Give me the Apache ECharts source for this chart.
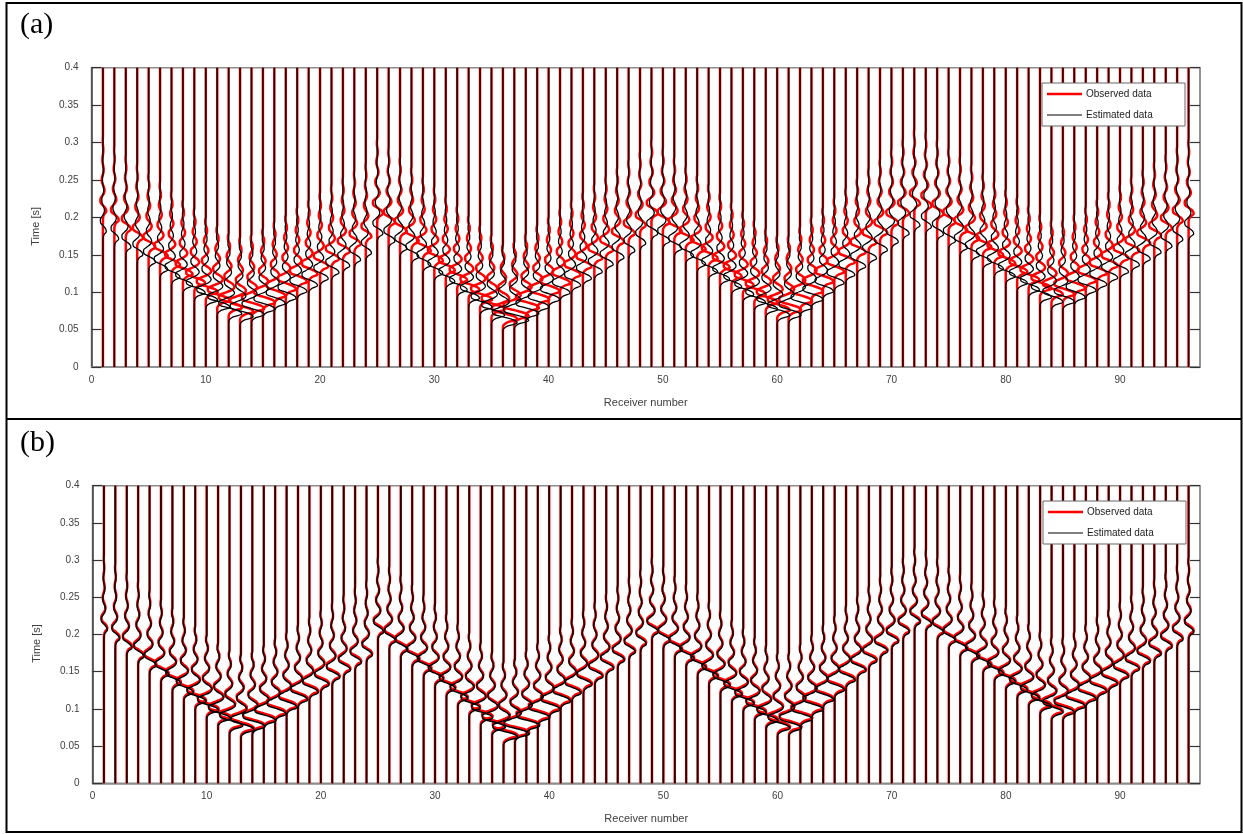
<!DOCTYPE html>
<html>
<head>
<meta charset="utf-8">
<script src="https://cdn.jsdelivr.net/npm/echarts@6/dist/echarts.min.js"></script>
<style>
  html, body { margin: 0; padding: 0; background: #fff; }
  #chart { width: 1243px; height: 834px; }
</style>
</head>
<body>
<div id="chart"></div>
<script>
// Receiver numbers along the spread
const receivers = Array.from({ length: 96 }, (_, i) => i + 1);

// Axis tick values
const timeTicks = [0, 0.05, 0.1, 0.15, 0.2, 0.25, 0.3, 0.35, 0.4];
const receiverTicks = [0, 10, 20, 30, 40, 50, 60, 70, 80, 90];

// Source wavelet: lag from the main peak [s] and normalised amplitude
const waveletLag = [-0.012, -0.008, -0.004, 0, 0.004, 0.008, 0.012, 0.016, 0.020, 0.024,
  0.028, 0.032, 0.036, 0.040, 0.044, 0.048, 0.052, 0.056, 0.060, 0.064,
  0.068, 0.072, 0.076, 0.080, 0.084, 0.088, 0.092, 0.096, 0.100];
const waveletShape = [0, 0.05, 0.35, 1.0, 0.75, 0.0, -0.7, -0.75, -0.3, 0.25,
  0.45, 0.3, -0.05, -0.3, -0.32, -0.1, 0.15, 0.22, 0.12, -0.05,
  -0.15, -0.12, 0.0, 0.1, 0.1, 0.03, -0.05, -0.05, 0];

// Trace display gain (in receiver spacings)
const traceGain = [
  0.30, 0.38, 0.45, 0.50, 0.60, 0.68, 0.75, 0.85, 0.95, 1.05, 1.10, 1.15,
  1.15, 1.10, 1.05, 0.95, 0.90, 0.85, 0.78, 0.72, 0.66, 0.60, 0.55, 0.50,
  0.50, 0.55, 0.60, 0.65, 0.70, 0.75, 0.80, 0.88, 0.95, 1.05, 1.15, 1.25,
  1.25, 1.15, 1.05, 0.95, 0.88, 0.80, 0.75, 0.70, 0.65, 0.60, 0.55, 0.50,
  0.55, 0.60, 0.65, 0.70, 0.75, 0.80, 0.85, 0.90, 0.95, 1.00, 1.05, 1.10,
  1.10, 1.05, 1.00, 0.92, 0.86, 0.80, 0.75, 0.70, 0.65, 0.60, 0.55, 0.50,
  0.50, 0.55, 0.60, 0.65, 0.70, 0.75, 0.80, 0.85, 0.90, 0.95, 1.00, 1.00,
  1.00, 0.95, 0.90, 0.85, 0.80, 0.75, 0.70, 0.65, 0.60, 0.55, 0.50, 0.45
];

// First-arrival peak times [s] of the observed traces
const observedPick = [
  0.208, 0.196, 0.184, 0.172, 0.160, 0.148, 0.136, 0.124, 0.112, 0.100, 0.089, 0.079,
  0.074, 0.078, 0.086, 0.095, 0.104, 0.114, 0.124, 0.134, 0.144, 0.154, 0.164, 0.174,
  0.205, 0.193, 0.181, 0.168, 0.155, 0.142, 0.129, 0.116, 0.103, 0.090, 0.077, 0.064,
  0.068, 0.079, 0.090, 0.101, 0.112, 0.123, 0.134, 0.145, 0.156, 0.167, 0.178, 0.189,
  0.205, 0.193, 0.181, 0.169, 0.157, 0.145, 0.133, 0.121, 0.109, 0.097, 0.086, 0.076,
  0.076, 0.088, 0.101, 0.114, 0.127, 0.140, 0.153, 0.166, 0.179, 0.192, 0.205, 0.218,
  0.215, 0.204, 0.193, 0.182, 0.171, 0.160, 0.149, 0.138, 0.127, 0.116, 0.105, 0.097,
  0.097, 0.105, 0.115, 0.125, 0.135, 0.145, 0.155, 0.165, 0.175, 0.185, 0.195, 0.205
];

// Peak times [s] of the estimated traces, initial model (a)
const estimatedPickA = [
  0.181, 0.171, 0.160, 0.150, 0.140, 0.130, 0.120, 0.109, 0.099, 0.089, 0.080, 0.071,
  0.067, 0.070, 0.077, 0.085, 0.092, 0.101, 0.109, 0.118, 0.126, 0.135, 0.143, 0.152,
  0.178, 0.168, 0.158, 0.147, 0.136, 0.125, 0.114, 0.103, 0.092, 0.080, 0.069, 0.059,
  0.062, 0.071, 0.080, 0.090, 0.099, 0.109, 0.118, 0.127, 0.137, 0.146, 0.155, 0.165,
  0.178, 0.168, 0.158, 0.148, 0.137, 0.127, 0.117, 0.107, 0.097, 0.086, 0.077, 0.069,
  0.069, 0.079, 0.090, 0.101, 0.112, 0.123, 0.134, 0.145, 0.156, 0.167, 0.178, 0.189,
  0.187, 0.177, 0.168, 0.159, 0.149, 0.140, 0.131, 0.121, 0.112, 0.103, 0.093, 0.087,
  0.087, 0.093, 0.102, 0.110, 0.119, 0.127, 0.136, 0.144, 0.153, 0.161, 0.170, 0.178
];

// Peak times [s] of the estimated traces, final model (b)
const estimatedPickB = [
  0.206, 0.194, 0.182, 0.170, 0.158, 0.146, 0.134, 0.122, 0.110, 0.098, 0.087, 0.077,
  0.072, 0.076, 0.084, 0.093, 0.102, 0.112, 0.122, 0.132, 0.142, 0.152, 0.162, 0.172,
  0.203, 0.191, 0.179, 0.166, 0.153, 0.140, 0.127, 0.114, 0.101, 0.088, 0.075, 0.062,
  0.066, 0.077, 0.088, 0.099, 0.110, 0.121, 0.132, 0.143, 0.154, 0.165, 0.176, 0.187,
  0.203, 0.191, 0.179, 0.167, 0.155, 0.143, 0.131, 0.119, 0.107, 0.095, 0.084, 0.074,
  0.074, 0.086, 0.099, 0.112, 0.125, 0.138, 0.151, 0.164, 0.177, 0.190, 0.203, 0.216,
  0.213, 0.202, 0.191, 0.180, 0.169, 0.158, 0.147, 0.136, 0.125, 0.114, 0.103, 0.095,
  0.095, 0.103, 0.113, 0.123, 0.133, 0.143, 0.153, 0.163, 0.173, 0.183, 0.193, 0.203
];

const T_MIN = timeTicks[0];
const T_MAX = timeTicks[timeTicks.length - 1];

// One wiggle trace: the wavelet placed at the trace's pick time.
function wiggle(i, picks) {
  const r = receivers[i], T = picks[i], A = traceGain[i];
  const pts = [[r, T_MIN]];
  waveletLag.forEach((lag, k) => {
    const t = T + lag;
    if (t > T_MIN && t < T_MAX) pts.push([r + A * waveletShape[k], t]);
  });
  pts.push([r, T_MAX]);
  return pts;
}

const FONT = 'Arial, "Liberation Sans", Helvetica, sans-serif';
const SERIF = '"Liberation Serif", "Times New Roman", serif';
const LABEL_COLOR = '#404040';
const RED = '#ff0000';

const grids = [
  { left: 91.5, top: 67.7, width: 1108.5, height: 299.3 },
  { left: 92.5, top: 485.7, width: 1107.5, height: 297.6 }
];

function xAxisFor(g) {
  return {
    type: 'value', gridIndex: g, min: receiverTicks[0], max: 97, interval: 10,
    axisLine: { show: true, lineStyle: { color: '#8c8c8c', width: 1.5 } },
    axisTick: { show: false },
    splitLine: { show: false },
    axisLabel: {
      fontSize: 10, color: LABEL_COLOR, fontFamily: FONT, margin: 8,
      formatter: v => (receiverTicks.indexOf(v) >= 0 ? String(v) : '')
    },
    name: 'Receiver number', nameLocation: 'middle', nameGap: 30,
    nameTextStyle: { fontSize: 11, color: LABEL_COLOR, fontFamily: FONT }
  };
}

function yLeftFor(g) {
  return {
    type: 'value', gridIndex: g, position: 'left', min: T_MIN, max: T_MAX, interval: 0.05,
    axisLine: { show: true, lineStyle: { color: '#404040', width: 1.5 } },
    axisTick: { show: true, inside: true, length: 10, lineStyle: { color: '#333', width: 1.2 } },
    splitLine: { show: false },
    axisLabel: { fontSize: 10, color: LABEL_COLOR, fontFamily: FONT, margin: 13 },
    name: 'Time [s]', nameLocation: 'middle', nameGap: 50,
    nameTextStyle: { fontSize: 11, color: LABEL_COLOR, fontFamily: FONT, padding: [0, 18, 0, 0] }
  };
}

function yRightFor(g) {
  return {
    type: 'value', gridIndex: g, position: 'right', min: T_MIN, max: T_MAX, interval: 0.05,
    axisLine: { show: true, lineStyle: { color: '#8c8c8c', width: 1.5 } },
    axisTick: { show: true, inside: true, length: 10, lineStyle: { color: '#333', width: 1.2 } },
    splitLine: { show: false },
    axisLabel: { show: false }
  };
}

function panelSeries(xi, yi, estPicks, estWidth) {
  const out = [];
  receivers.forEach((r, i) => {
    out.push({
      name: 'Observed data', type: 'line', xAxisIndex: xi, yAxisIndex: yi,
      data: wiggle(i, observedPick), symbol: 'none', showSymbol: false, smooth: 0.4,
      lineStyle: { color: RED, width: 2.5 }, itemStyle: { color: RED }, z: 2, silent: true
    });
  });
  receivers.forEach((r, i) => {
    out.push({
      name: 'Estimated data', type: 'line', xAxisIndex: xi, yAxisIndex: yi,
      data: wiggle(i, estPicks), symbol: 'none', showSymbol: false, smooth: 0.4,
      lineStyle: { color: '#000', width: estWidth }, itemStyle: { color: '#000' }, z: 3, silent: true
    });
  });
  return out;
}

// Legend box drawn in pixel space at the top-right of a panel
function legendBox(x, y) {
  const z = 50;
  return [
    { type: 'rect', z: z, silent: true, shape: { x: x, y: y, width: 143, height: 43 },
      style: { fill: '#fff', stroke: '#666', lineWidth: 1 } },
    { type: 'line', z: z + 1, silent: true, shape: { x1: x + 5, y1: y + 11, x2: x + 40, y2: y + 11 },
      style: { stroke: RED, lineWidth: 2.5 } },
    { type: 'text', z: z + 1, silent: true, x: x + 44, y: y + 11,
      style: { text: 'Observed data', fontSize: 10, fontFamily: FONT, fill: '#222', verticalAlign: 'middle' } },
    { type: 'line', z: z + 1, silent: true, shape: { x1: x + 5, y1: y + 32, x2: x + 40, y2: y + 32 },
      style: { stroke: '#000', lineWidth: 1.2 } },
    { type: 'text', z: z + 1, silent: true, x: x + 44, y: y + 32,
      style: { text: 'Estimated data', fontSize: 10, fontFamily: FONT, fill: '#222', verticalAlign: 'middle' } }
  ];
}

const option = {
  animation: false,
  backgroundColor: '#fff',
  grid: grids.map(g => Object.assign({ show: true, borderColor: '#8c8c8c', borderWidth: 1.5 }, g)),
  xAxis: [xAxisFor(0), xAxisFor(1)],
  yAxis: [yLeftFor(0), yRightFor(0), yLeftFor(1), yRightFor(1)],
  series: panelSeries(0, 0, estimatedPickA, 1.3).concat(panelSeries(1, 2, estimatedPickB, 1.5)),
  graphic: {
    elements: [
      { type: 'rect', silent: true, shape: { x: 6.5, y: 3, width: 1235, height: 829 },
        style: { fill: null, stroke: '#000', lineWidth: 2 } },
      { type: 'line', silent: true, shape: { x1: 6.5, y1: 419, x2: 1241.5, y2: 419 },
        style: { stroke: '#000', lineWidth: 2 } },
      { type: 'text', silent: true, x: 20, y: 10,
        style: { text: '(a)', fontSize: 30, fontFamily: SERIF, fill: '#000', verticalAlign: 'top' } },
      { type: 'text', silent: true, x: 20, y: 428,
        style: { text: '(b)', fontSize: 30, fontFamily: SERIF, fill: '#000', verticalAlign: 'top' } }
    ].concat(legendBox(1042, 83), legendBox(1043, 501))
  }
};

const chart = echarts.init(document.getElementById('chart'), null, { renderer: 'canvas' });
chart.setOption(option);
</script>
</body>
</html>
